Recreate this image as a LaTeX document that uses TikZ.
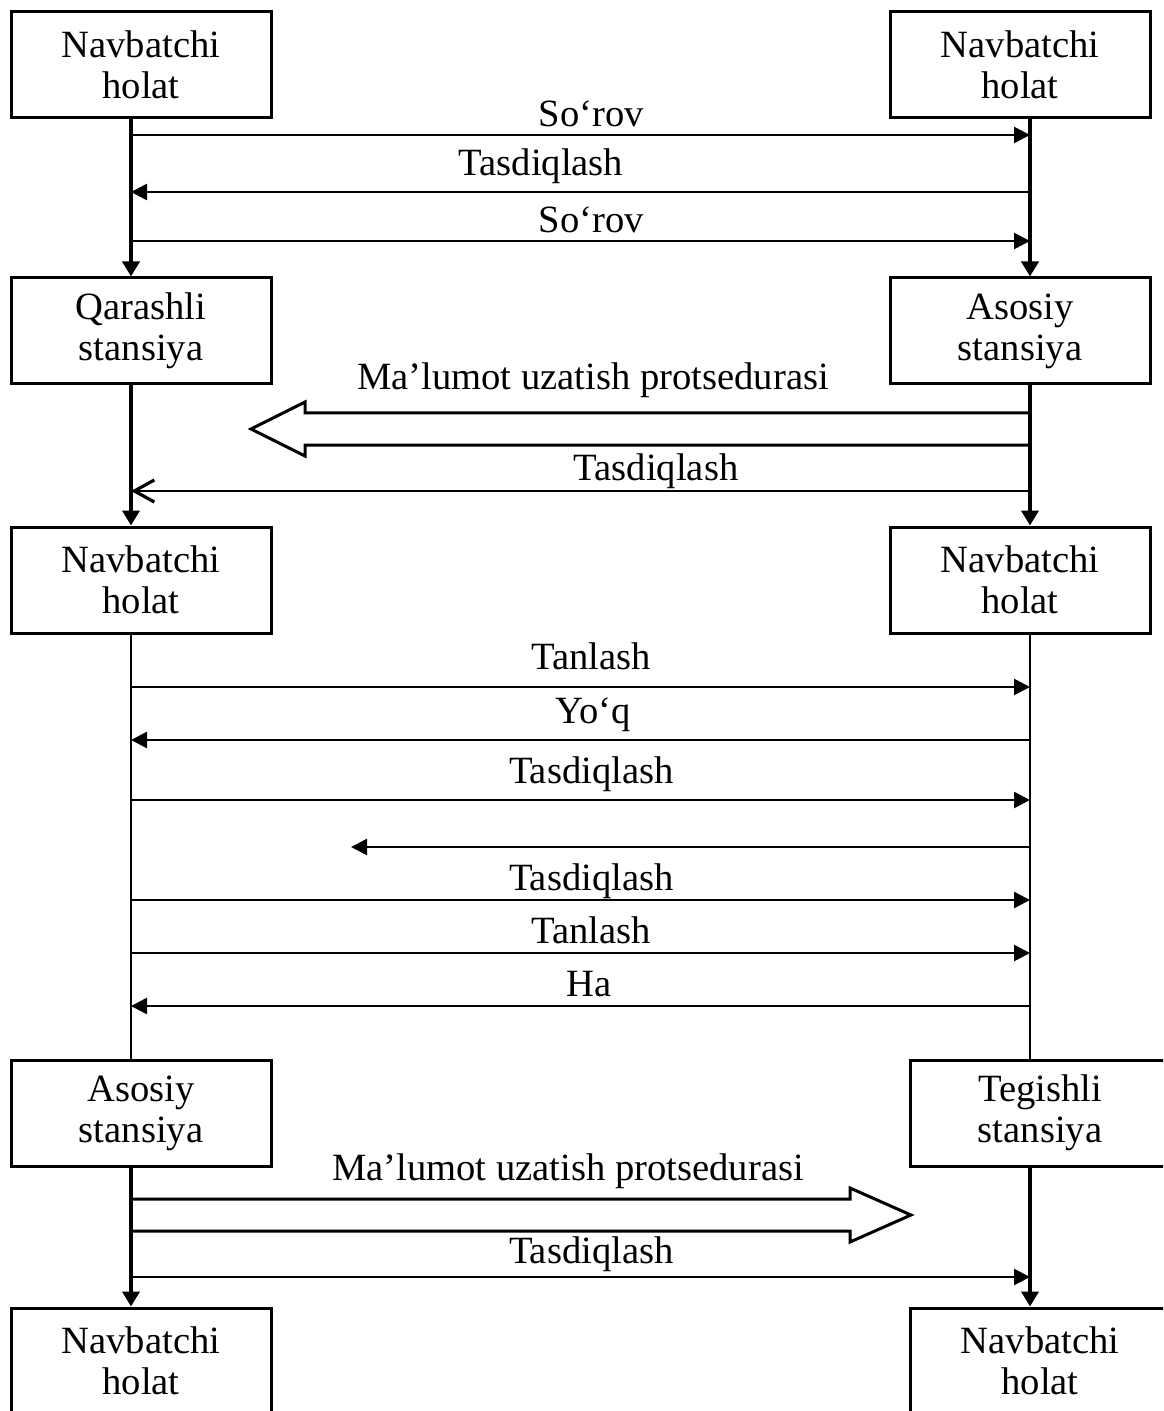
\documentclass[tikz,border=0pt]{standalone}
\usepackage{fontspec}
\setmainfont{Liberation Serif}
\usetikzlibrary{arrows.meta}

\begin{document}
\begin{tikzpicture}[
  x=0.5pt, y=-0.5pt,
  every node/.style={font=\fontsize{19.3}{20.5}\selectfont},
  box/.style={draw,line width=1.5pt,align=center,minimum width=130pt,minimum height=53pt,inner sep=0pt},
  life/.style={line width=2pt,-{Triangle[length=7.5pt,width=8.5pt]}},
  plain/.style={line width=1.2pt},
  msg/.style={line width=1.3pt},
  fwd/.style={msg,-{Triangle[length=8pt,width=8pt]}},
  back/.style={msg,{Triangle[length=8pt,width=8pt]}-},
  barb/.style={msg,{Straight Barb[length=10pt,width=11pt,line width=1.6pt]}-},
  block/.style={line width=1.5pt},
  lbl/.style={anchor=base,pos=0.512}
]
  \useasboundingbox (0,0) rectangle (1163,1411);
  \clip (0,0) rectangle (1163,1411);

  % lifeline columns
  \coordinate (lx) at (131,0);
  \coordinate (rx) at (1030,0);

  \node[box] (idleL1) at (141,64.5) {Navbatchi\\holat};
  \node[box] (idleR1) at (1020,64.5) {Navbatchi\\holat};
  \node[box] (standbyL) at (141,331) {Qarashli\\stansiya};
  \node[box] (mainR) at (1020,331) {Asosiy\\stansiya};
  \node[box] (idleL2) at (141,580) {Navbatchi\\holat};
  \node[box] (idleR2) at (1020,580) {Navbatchi\\holat};
  \node[box] (mainL) at (141,1113) {Asosiy\\stansiya};
  \node[box] (slaveR) at (1040,1113) {Tegishli\\stansiya};
  \node[box] (idleL3) at (141,1361) {Navbatchi\\holat};
  \node[box] (idleR3) at (1040,1361) {Navbatchi\\holat};

  \draw[life] (idleL1.south -| lx) -- (standbyL.north -| lx);
  \draw[life] (idleR1.south -| rx) -- (mainR.north -| rx);
  \draw[life] (standbyL.south -| lx) -- (idleL2.north -| lx);
  \draw[life] (mainR.south -| rx) -- (idleR2.north -| rx);
  \draw[plain] (idleL2.south -| lx) -- (mainL.north -| lx);
  \draw[plain] (idleR2.south -| rx) -- (slaveR.north -| rx);
  \draw[life] (mainL.south -| lx) -- (idleL3.north -| lx);
  \draw[life] (slaveR.south -| rx) -- (idleR3.north -| rx);

  % message ends on the lifelines
  \coordinate (a1) at (131,135);  \coordinate (b1) at (1030,135);
  \coordinate (a2) at (131,192);  \coordinate (b2) at (1030,192);
  \coordinate (a3) at (131,241);  \coordinate (b3) at (1030,241);
  \coordinate (b4) at (1030,413); \coordinate (b5) at (1030,445);
  \coordinate (a6) at (131,491);  \coordinate (b6) at (1030,491);
  \coordinate (a7) at (131,687);  \coordinate (b7) at (1030,687);
  \coordinate (a8) at (131,740);  \coordinate (b8) at (1030,740);
  \coordinate (a9) at (131,800);  \coordinate (b9) at (1030,800);
  \coordinate (c10) at (351,847); \coordinate (b10) at (1030,847);
  \coordinate (a11) at (131,900); \coordinate (b11) at (1030,900);
  \coordinate (a12) at (131,953); \coordinate (b12) at (1030,953);
  \coordinate (a13) at (131,1006); \coordinate (b13) at (1030,1006);
  \coordinate (a14) at (131,1199); \coordinate (a15) at (131,1231);
  \coordinate (a16) at (131,1277); \coordinate (b16) at (1030,1277);

  \draw[fwd] (a1) -- node[lbl,yshift=4pt] {So‘rov} (b1);
  \draw[back] (a2) -- node[lbl,pos=0.456,yshift=8pt] {Tasdiqlash} (b2);
  \draw[fwd] (a3) -- node[lbl,yshift=4pt] {So‘rov} (b3);
  \draw[block] (b4) -- (305,413) -- (305,402) -- (251,429) -- (305,456) -- (305,445) -- (b5);
  \node[anchor=base] (data1) at (593,390) {Ma’lumot uzatish protsedurasi};
  \draw[barb] (a6) -- node[lbl,pos=0.584,yshift=5.5pt] {Tasdiqlash} (b6);

  \draw[fwd] (a7) -- node[lbl,yshift=9pt] {Tanlash} (b7);
  \draw[back] (a8) -- node[lbl,pos=0.514,yshift=8.5pt] {Yo‘q} (b8);
  \draw[fwd] (a9) -- node[lbl,yshift=8.5pt] {Tasdiqlash} (b9);
  \draw[back] (c10) -- (b10);
  \draw[fwd] (a11) -- node[lbl,yshift=5pt] {Tasdiqlash} (b11);
  \draw[fwd] (a12) -- node[lbl,yshift=5pt] {Tanlash} (b12);
  \draw[back] (a13) -- node[lbl,pos=0.51,yshift=5pt] {Ha} (b13);

  \draw[block] (a14) -- (850,1199) -- (850,1188) -- (911,1215) -- (850,1242) -- (850,1231) -- (a15);
  \node[anchor=base] (data2) at (568,1180) {Ma’lumot uzatish protsedurasi};
  \draw[fwd] (a16) -- node[lbl,yshift=7pt] {Tasdiqlash} (b16);
\end{tikzpicture}
\end{document}
